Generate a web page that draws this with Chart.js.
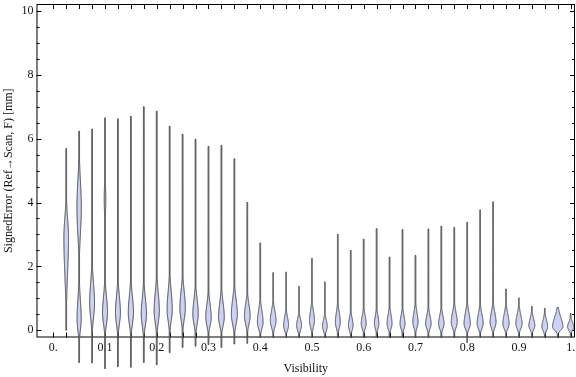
<!DOCTYPE html>
<html>
<head>
<meta charset="utf-8">
<script src="https://cdn.jsdelivr.net/npm/chart.js@4"></script>
<style>
  html, body { margin: 0; padding: 0; background: #fff; }
  #wrap { width: 576px; height: 377px; }
</style>
</head>
<body>
<div id="wrap"><canvas id="violinChart" width="576" height="377"></canvas></div>
<script>
// visibility bins (category positions)
const positions = [0.025, 0.05, 0.075, 0.1, 0.125, 0.15, 0.175, 0.2, 0.225, 0.25,
                   0.275, 0.3, 0.325, 0.35, 0.375, 0.4, 0.425, 0.45, 0.475, 0.5,
                   0.525, 0.55, 0.575, 0.6, 0.625, 0.65, 0.675, 0.7, 0.725, 0.75,
                   0.775, 0.8, 0.825, 0.85, 0.875, 0.9, 0.925, 0.95, 0.975, 1.0];
// extent of each distribution (mm)
const highs = [5.69, 6.23, 6.30, 6.65, 6.62, 6.70, 7.00, 6.86, 6.39, 6.14,
               5.98, 5.76, 5.79, 5.37, 4.00, 2.73, 1.80, 1.82, 1.37, 2.25,
               1.51, 3.00, 2.50, 2.85, 3.18, 2.29, 3.15, 2.34, 3.17, 3.26,
               3.22, 3.38, 3.77, 4.02, 1.29, 1.01, 0.74, 0.68, 0.71, 0.52];
const lows = [0.00, -1.01, -1.02, -1.20, -1.14, -1.16, -1.01, -1.08, -0.70, -0.54,
              -0.50, -0.45, -0.54, -0.43, -0.41, -0.22, -0.22, -0.22, -0.22, -0.22,
              -0.22, -0.22, -0.22, -0.22, -0.22, -0.22, -0.22, -0.22, -0.22, -0.22,
              -0.22, -0.38, -0.22, -0.22, -0.22, -0.22, -0.22, -0.22, -0.22, -0.22];
// main density bump: location, spread above / below, relative density
const peaks = [2.9, 0.35, 0.85, 0.55, 0.55, 0.55, 0.5, 0.6, 0.65, 0.7,
               0.5, 0.4, 0.4, 0.5, 0.45, 0.25, 0.3, 0.15, 0.15, 0.3,
               0.12, 0.25, 0.15, 0.2, 0.2, 0.2, 0.2, 0.25, 0.2, 0.2,
               0.25, 0.2, 0.2, 0.25, 0.2, 0.2, 0.14, 0.1, 0.1, 0.1];
const spreadUp = [0.6, 0.6, 0.6, 0.5, 0.5, 0.5, 0.5, 0.55, 0.55, 0.5,
                  0.45, 0.4, 0.45, 0.45, 0.35, 0.35, 0.3, 0.25, 0.2, 0.3,
                  0.2, 0.3, 0.22, 0.25, 0.25, 0.28, 0.25, 0.3, 0.25, 0.25,
                  0.3, 0.33, 0.3, 0.3, 0.3, 0.28, 0.22, 0.22, 0.3, 0.15];
const spreadDown = [1.1, 0.35, 0.45, 0.35, 0.35, 0.35, 0.35, 0.35, 0.35, 0.35,
                    0.3, 0.25, 0.25, 0.3, 0.25, 0.2, 0.2, 0.15, 0.15, 0.2,
                    0.15, 0.18, 0.15, 0.15, 0.15, 0.15, 0.15, 0.17, 0.15, 0.15,
                    0.17, 0.15, 0.15, 0.17, 0.15, 0.15, 0.12, 0.12, 0.1, 0.1];
const density = [0.9, 0.8, 0.95, 0.95, 0.95, 1.0, 1.0, 1.0, 1.0, 1.05,
                 1.05, 1.05, 1.1, 1.15, 1.1, 1.1, 1.1, 0.95, 0.95, 0.95,
                 0.9, 0.95, 0.9, 0.95, 0.85, 0.95, 0.95, 1.0, 1.05, 1.05,
                 1.15, 1.2, 1.15, 1.15, 1.2, 1.2, 1.15, 1.1, 2.0, 1.2];
// secondary (upper) bump where present
const peak2 = {1: 3.85, 3: 4.1};
const spread2 = {1: 0.8, 3: 0.45};
const density2 = {1: 0.85, 3: 0.3};

const xTickLabels = [0, 0.1, 0.2, 0.3, 0.4, 0.5, 0.6, 0.7, 0.8, 0.9, 1];
const yTickLabels = [0, 2, 4, 6, 8, 10];
const yMinorTicks = [0.5, 1, 1.5, 2.5, 3, 3.5, 4.5, 5, 5.5, 6.5, 7, 7.5, 8.5, 9, 9.5];

const FONT = 'Liberation Serif';
const FILL = 'rgb(203, 210, 246)';
const EDGE = '#404040';
const WIDTH_PX = 2.6;

function halfWidth(i, v) {
  const s = v >= peaks[i] ? spreadUp[i] : spreadDown[i];
  let w = density[i] * Math.exp(-0.5 * Math.pow((v - peaks[i]) / s, 2));
  if (peak2[i] !== undefined) {
    w += density2[i] * Math.exp(-0.5 * Math.pow((v - peak2[i]) / spread2[i], 2));
  }
  return Math.max(w * WIDTH_PX, 0.4);
}

const framePlugin = {
  id: 'frame',
  beforeDatasetsDraw(chart) {
    const {ctx, chartArea: a, scales: {x, y}} = chart;
    ctx.save();
    ctx.strokeStyle = '#000';
    ctx.lineWidth = 1;
    ctx.strokeRect(a.left + 0.5, a.top + 0.5, a.right - a.left - 1, a.bottom - a.top - 1);
    ctx.beginPath();
    yTickLabels.forEach(v => {
      const py = Math.round(y.getPixelForValue(v)) + 0.5;
      ctx.moveTo(a.left, py); ctx.lineTo(a.left + 5, py);
      ctx.moveTo(a.right, py); ctx.lineTo(a.right - 5, py);
    });
    yMinorTicks.forEach(v => {
      const py = Math.round(y.getPixelForValue(v)) + 0.5;
      ctx.moveTo(a.left, py); ctx.lineTo(a.left + 3, py);
      ctx.moveTo(a.right, py); ctx.lineTo(a.right - 3, py);
    });
    [0].concat(positions).forEach(v => {
      const px = Math.round(x.getPixelForValue(v)) + 0.5;
      ctx.moveTo(px, a.top); ctx.lineTo(px, a.top + 5);
      ctx.moveTo(px, a.bottom); ctx.lineTo(px, a.bottom - 5);
    });
    ctx.stroke();
    ctx.restore();
  }
};

const violinPlugin = {
  id: 'violins',
  afterDatasetsDraw(chart) {
    const {ctx, scales: {x, y}} = chart;
    ctx.save();
    positions.forEach((p, i) => {
      const cx = x.getPixelForValue(p);
      const pts = [];
      const n = 400;
      for (let k = 0; k <= n; k++) {
        const v = lows[i] + (highs[i] - lows[i]) * k / n;
        pts.push([y.getPixelForValue(v), halfWidth(i, v)]);
      }
      ctx.beginPath();
      pts.forEach(([py, w], k) => k ? ctx.lineTo(cx + w, py) : ctx.moveTo(cx + w, py));
      for (let k = pts.length - 1; k >= 0; k--) ctx.lineTo(cx - pts[k][1], pts[k][0]);
      ctx.closePath();
      ctx.fillStyle = FILL;
      ctx.fill();
      ctx.strokeStyle = EDGE;
      ctx.lineWidth = 1;
      ctx.stroke();
    });
    ctx.restore();
  }
};

const ctx = document.getElementById('violinChart').getContext('2d');
new Chart(ctx, {
  type: 'scatter',
  data: {
    datasets: [{
      data: positions.map((p, i) => ({x: p, y: peaks[i]})),
      pointRadius: 0,
      showLine: false
    }]
  },
  options: {
    responsive: false,
    animation: false,
    layout: { padding: { left: 0, right: 1, top: 4, bottom: 0 } },
    plugins: { legend: { display: false }, tooltip: { enabled: false } },
    scales: {
      x: {
        type: 'linear',
        min: -0.0324,
        max: 1.0084,
        grid: { display: false, drawTicks: false },
        border: { display: false },
        afterBuildTicks: s => { s.ticks = xTickLabels.map(v => ({value: v})); },
        afterFit: s => { s.height = 39.5; s.paddingLeft = 0; s.paddingRight = 0; },
        ticks: {
          autoSkip: false, maxRotation: 0, padding: 3, color: '#111',
          font: { family: FONT, size: 12 },
          callback: v => v === 0 ? '0.' : (v === 1 ? '1.' : v.toFixed(1))
        },
        title: {
          display: true, text: 'Visibility', color: '#111',
          font: { family: FONT, size: 12 }, padding: { top: 0, bottom: 1 }
        }
      },
      y: {
        min: -0.229,
        max: 10.22,
        grid: { display: false, drawTicks: false },
        border: { display: false },
        afterBuildTicks: s => { s.ticks = yTickLabels.map(v => ({value: v})); },
        afterFit: s => { s.width = 36.5; s.paddingTop = 0; s.paddingBottom = 0; },
        ticks: { padding: 3, color: '#111', font: { family: FONT, size: 12 } },
        title: {
          display: true, text: 'SignedError (Ref\u2192Scan, F) [mm]', color: '#111',
          font: { family: FONT, size: 12 }, padding: { top: 1.5, bottom: 0 }
        }
      }
    }
  },
  plugins: [framePlugin, violinPlugin]
});
</script>
</body>
</html>
